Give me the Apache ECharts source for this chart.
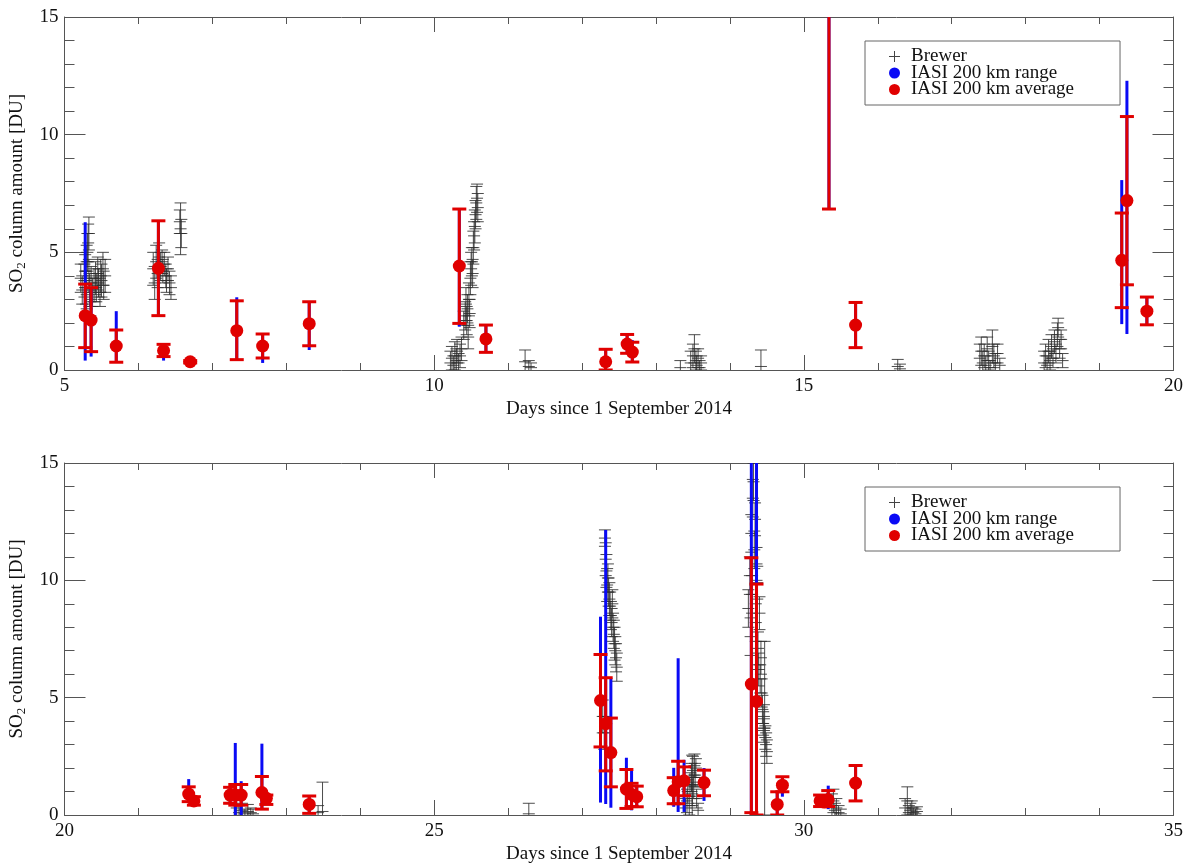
<!DOCTYPE html>
<html>
<head>
<meta charset="utf-8">
<script src="https://cdn.jsdelivr.net/npm/echarts@6/dist/echarts.min.js"></script>
<style>
  html, body { margin: 0; padding: 0; background: #fff; }
  #chart { width: 1186px; height: 865px; }
</style>
</head>
<body>
<div id="chart"></div>
<script>
// Brewer: [day, SO2 (DU), error]
const brewerTop = [
  [5.22, 3.9, 0.6], [5.24, 3.4, 0.6], [5.27, 3.8, 0.7], [5.28, 4.2, 0.7], [5.29, 3.5, 0.7],
  [5.30, 3.2, 0.6], [5.30, 4.6, 0.7], [5.31, 5.0, 0.8], [5.32, 5.4, 0.8], [5.33, 5.8, 0.7],
  [5.33, 4.0, 0.7], [5.34, 3.4, 0.7], [5.35, 2.9, 0.6], [5.36, 3.7, 0.7], [5.38, 3.3, 0.6],
  [5.40, 3.6, 0.7], [5.42, 3.9, 0.7], [5.43, 3.5, 0.6], [5.45, 4.1, 0.7], [5.46, 3.7, 0.6],
  [5.48, 3.3, 0.6], [5.49, 4.0, 0.7], [5.50, 3.8, 0.7], [5.52, 4.3, 0.7], [5.53, 3.6, 0.6],
  [5.55, 4.0, 0.7],
  [6.20, 4.3, 0.7], [6.22, 3.7, 0.7], [6.24, 4.6, 0.7], [6.26, 4.1, 0.6], [6.28, 4.8, 0.6],
  [6.30, 4.4, 0.6], [6.32, 4.6, 0.5], [6.33, 4.2, 0.5], [6.35, 4.5, 0.5], [6.37, 4.0, 0.5],
  [6.38, 3.8, 0.5], [6.40, 4.3, 0.5], [6.42, 3.7, 0.5], [6.44, 3.5, 0.5],
  [6.56, 6.3, 0.5], [6.57, 6.0, 1.1], [6.58, 5.8, 0.6],
  [10.22, 0.3, 0.5], [10.24, 0.5, 0.5], [10.26, 0.2, 0.4], [10.28, 0.6, 0.6], [10.30, 0.4, 0.5],
  [10.31, 0.8, 0.5], [10.33, 0.3, 0.4], [10.35, 0.6, 0.5], [10.37, 0.9, 0.5],
  [10.40, 1.9, 0.6], [10.42, 2.3, 0.6], [10.43, 2.8, 0.7], [10.44, 2.1, 0.6], [10.45, 2.6, 0.6],
  [10.46, 1.4, 0.5], [10.47, 3.0, 0.7], [10.48, 2.4, 0.6], [10.49, 3.9, 0.7], [10.50, 4.3, 0.7],
  [10.51, 4.6, 0.6], [10.52, 4.1, 0.6], [10.53, 5.2, 0.7], [10.54, 5.7, 0.6], [10.55, 6.1, 0.7],
  [10.56, 6.6, 0.6], [10.57, 7.1, 0.7], [10.58, 7.3, 0.6], [10.59, 6.9, 0.6],
  [11.23, 0.35, 0.5], [11.28, 0.15, 0.25], [11.31, 0.1, 0.2],
  [13.33, 0.1, 0.3],
  [13.47, 0.3, 0.5], [13.50, 0.6, 0.5], [13.52, 0.9, 0.6], [13.54, 0.4, 0.4], [13.55, 0.2, 0.4],
  [13.57, 0.5, 0.4], [13.59, 0.1, 0.3], [13.61, 0.3, 0.3],
  [14.42, 0.15, 0.7],
  [16.27, 0.15, 0.3], [16.30, 0.05, 0.2],
  [17.38, 0.5, 0.6], [17.40, 0.8, 0.6], [17.42, 0.3, 0.5], [17.44, 0.6, 0.5], [17.46, 0.2, 0.4],
  [17.48, 0.9, 0.5], [17.50, 0.4, 0.4], [17.52, 0.1, 0.3], [17.55, 1.0, 0.7], [17.57, 0.6, 0.5],
  [17.59, 0.3, 0.4], [17.62, 0.7, 0.4], [17.65, 0.2, 0.3],
  [18.25, 0.3, 0.5], [18.27, 0.6, 0.5], [18.29, 0.2, 0.4], [18.31, 0.8, 0.5], [18.33, 0.4, 0.4],
  [18.35, 1.0, 0.5], [18.37, 0.5, 0.4], [18.39, 1.2, 0.5], [18.41, 0.7, 0.4], [18.43, 1.5, 0.5],
  [18.44, 1.8, 0.4], [18.46, 0.9, 0.4], [18.48, 1.3, 0.4], [18.50, 0.4, 0.3]
];
const brewerBottom = [
  [22.33, 0.3, 0.4], [22.36, 0.1, 0.3], [22.40, 0.2, 0.3], [22.44, 0.05, 0.2], [22.48, 0.15, 0.3],
  [22.52, 0.1, 0.2], [22.55, 0.05, 0.2],
  [23.43, 0.1, 0.3], [23.49, 0.15, 1.25],
  [26.28, 0.05, 0.45],
  [27.28, 4.2, 0.7], [27.30, 3.5, 0.7], [27.31, 11.8, 0.35], [27.32, 10.9, 0.7], [27.33, 10.4, 0.7],
  [27.34, 9.8, 0.7], [27.35, 10.1, 0.6], [27.36, 9.5, 0.6], [27.37, 9.2, 0.7], [27.38, 8.9, 0.6],
  [27.39, 8.5, 0.6], [27.40, 8.2, 0.6], [27.41, 9.0, 0.6], [27.42, 8.0, 0.6], [27.43, 7.7, 0.6],
  [27.44, 7.3, 0.7], [27.45, 7.0, 0.6], [27.46, 6.7, 0.6], [27.47, 6.3, 0.6],
  [28.40, 0.3, 0.4], [28.42, 0.6, 0.5], [28.43, 1.0, 0.5], [28.45, 0.4, 0.4], [28.46, 1.3, 0.5],
  [28.48, 1.6, 0.6], [28.49, 0.9, 0.5], [28.49, 1.25, 1.3], [28.50, 1.9, 0.6], [28.51, 1.2, 0.5],
  [28.52, 2.1, 0.5], [28.53, 1.7, 0.5], [28.54, 2.0, 0.4], [28.55, 0.7, 0.4], [28.57, 0.2, 0.3],
  [29.25, 8.8, 0.8], [29.27, 10.2, 0.8], [29.28, 7.6, 0.8], [29.29, 12.0, 0.8], [29.30, 9.4, 0.8],
  [29.31, 13.5, 0.8], [29.32, 14.2, 0.8], [29.33, 11.3, 0.8], [29.34, 12.6, 0.7], [29.35, 8.2, 0.8],
  [29.36, 10.7, 0.7], [29.37, 9.9, 0.7], [29.38, 7.1, 0.7], [29.39, 6.2, 0.7], [29.40, 8.6, 0.7],
  [29.41, 5.8, 0.6], [29.42, 6.7, 0.7], [29.43, 5.2, 0.6], [29.44, 4.5, 0.6], [29.45, 3.9, 0.5],
  [29.46, 3.6, 0.5], [29.46, 4.2, 0.5], [29.47, 3.7, 3.7], [29.48, 3.3, 0.5], [29.49, 3.0, 0.5],
  [29.50, 2.7, 0.5],
  [30.38, 0.4, 0.5], [30.40, 0.6, 0.5], [30.42, 0.2, 0.3], [30.44, 0.3, 0.4], [30.47, 0.1, 0.3],
  [30.50, 0.05, 0.2],
  [31.37, 0.3, 0.4], [31.40, 0.6, 0.6], [31.42, 0.1, 0.3], [31.44, 0.2, 0.3], [31.46, 0.3, 0.3],
  [31.48, 0.1, 0.2], [31.51, 0.05, 0.2], [31.53, 0.15, 0.2]
];

// IASI: [day, average, avg low, avg high, range low, range high]
const iasiTop = [
  [5.28, 2.31, 0.95, 3.65, 0.40, 6.28],
  [5.36, 2.12, 0.78, 3.50, 0.57, 3.50],
  [5.70, 1.02, 0.33, 1.70, 0.33, 2.50],
  [6.27, 4.32, 2.31, 6.34, 2.31, 6.34],
  [6.34, 0.82, 0.57, 1.09, 0.40, 1.09],
  [6.70, 0.35, 0.30, 0.40, 0.30, 0.40],
  [7.33, 1.67, 0.44, 2.94, 0.44, 3.09],
  [7.68, 1.02, 0.51, 1.53, 0.30, 1.53],
  [8.31, 1.97, 1.03, 2.90, 0.85, 2.90],
  [10.34, 4.42, 1.98, 6.84, 1.84, 6.84],
  [10.70, 1.32, 0.75, 1.91, 0.75, 1.93],
  [12.32, 0.35, 0.00, 0.88, 0.00, 0.88],
  [12.61, 1.10, 0.71, 1.51, 0.71, 1.51],
  [12.68, 0.76, 0.34, 1.18, 0.34, 1.27],
  [15.34, 25.0, 6.84, 40.0, 6.84, 40.0],
  [15.70, 1.91, 0.95, 2.87, 0.95, 2.87],
  [19.30, 4.66, 2.65, 6.67, 1.95, 8.07],
  [19.37, 7.20, 3.62, 10.77, 1.53, 12.29],
  [19.64, 2.50, 1.92, 3.10, 1.92, 3.10]
];
const iasiBottom = [
  [21.68, 0.89, 0.57, 1.20, 0.57, 1.53],
  [21.75, 0.60, 0.42, 0.78, 0.42, 0.78],
  [22.24, 0.85, 0.50, 1.18, 0.50, 1.18],
  [22.31, 0.85, 0.42, 1.30, 0.00, 3.07],
  [22.39, 0.85, 0.42, 1.30, 0.00, 1.44],
  [22.67, 0.96, 0.25, 1.64, 0.25, 3.04],
  [22.73, 0.71, 0.45, 0.85, 0.45, 0.85],
  [23.31, 0.45, 0.07, 0.81, 0.07, 0.81],
  [27.25, 4.88, 2.90, 6.84, 0.53, 8.45],
  [27.32, 3.89, 1.88, 5.85, 0.47, 12.14],
  [27.39, 2.66, 1.20, 4.13, 0.31, 5.83],
  [27.60, 1.10, 0.28, 1.94, 0.28, 2.44],
  [27.67, 0.88, 0.36, 1.35, 0.20, 1.91],
  [27.74, 0.78, 0.35, 1.23, 0.35, 1.23],
  [28.24, 1.04, 0.48, 1.59, 0.35, 2.01],
  [28.30, 1.42, 0.48, 2.29, 0.13, 6.68],
  [28.38, 1.46, 0.82, 2.05, 0.13, 2.35],
  [28.65, 1.38, 0.82, 1.91, 0.60, 2.00],
  [29.29, 5.58, 0.10, 10.96, 0.00, 18.0],
  [29.36, 4.84, 0.00, 9.84, 0.00, 18.0],
  [29.64, 0.45, 0.00, 0.99, 0.00, 0.99],
  [29.71, 1.27, 0.99, 1.63, 0.78, 1.63],
  [30.22, 0.60, 0.36, 0.85, 0.36, 0.85],
  [30.28, 0.55, 0.40, 0.80, 0.40, 0.80],
  [30.33, 0.65, 0.36, 1.04, 0.25, 1.25],
  [30.70, 1.36, 0.60, 2.11, 0.60, 2.11]
];

const FONT = 'Liberation Serif';
const AXIS_COLOR = '#555';
const BLUE = '#0a0af5';
const RED = '#e00000';
const BREWER = '#2e2e2e';
const names = ['Brewer', 'IASI 200 km range', 'IASI 200 km average'];

function line(x1, y1, x2, y2, style) {
  return { type: 'line', shape: { x1, y1, x2, y2 }, style };
}

function brewerItem(params, api) {
  const d = api.value(0), v = api.value(1), e = api.value(2);
  const c = api.coord([d, v]);
  const lo = api.coord([d, v - e])[1];
  const hi = api.coord([d, v + e])[1];
  const w = 6;
  const st = { stroke: BREWER, lineWidth: 1, opacity: 0.85 };
  return {
    type: 'group',
    children: [
      line(c[0], lo, c[0], hi, st),
      line(c[0] - w, lo, c[0] + w, lo, st),
      line(c[0] - w, hi, c[0] + w, hi, st),
      line(c[0] - w, c[1], c[0] + w, c[1], st)
    ]
  };
}

function rangeItem(params, api) {
  const d = api.value(0);
  const lo = api.coord([d, api.value(4)]);
  const hi = api.coord([d, api.value(5)]);
  return line(lo[0], lo[1], hi[0], hi[1], { stroke: BLUE, lineWidth: 3 });
}

function avgErrItem(params, api) {
  const d = api.value(0);
  const lo = api.coord([d, api.value(2)]);
  const hi = api.coord([d, api.value(3)]);
  const w = 7;
  const st = { stroke: RED, lineWidth: 3 };
  return {
    type: 'group',
    children: [
      line(lo[0], lo[1], hi[0], hi[1], st),
      line(lo[0] - w, lo[1], lo[0] + w, lo[1], st),
      line(hi[0] - w, hi[1], hi[0] + w, hi[1], st)
    ]
  };
}

const tickBase = {
  type: 'value',
  splitLine: { show: false },
  axisLine: { onZero: false, lineStyle: { color: AXIS_COLOR, width: 1 } },
  axisTick: { inside: true, lineStyle: { color: AXIS_COLOR } },
  minorTick: { show: true, splitNumber: 5, lineStyle: { color: AXIS_COLOR } }
};

function xAxes(gi, min, max) {
  return [
    Object.assign({}, tickBase, {
      gridIndex: gi, position: 'bottom', min, max, interval: 5,
      axisTick: Object.assign({}, tickBase.axisTick, { length: 15 }),
      minorTick: Object.assign({}, tickBase.minorTick, { length: 7 }),
      axisLabel: { margin: 7, fontSize: 19, fontFamily: FONT, color: '#111' },
      name: 'Days since 1 September 2014', nameLocation: 'middle', nameGap: 30,
      nameTextStyle: { fontSize: 19, fontFamily: FONT, color: '#111' }
    }),
    Object.assign({}, tickBase, {
      gridIndex: gi, position: 'top', min, max, interval: 5,
      axisTick: Object.assign({}, tickBase.axisTick, { length: 15 }),
      minorTick: Object.assign({}, tickBase.minorTick, { length: 7 }),
      axisLabel: { show: false }
    })
  ];
}

function yAxes(gi) {
  return [
    Object.assign({}, tickBase, {
      gridIndex: gi, position: 'left', min: 0, max: 15, interval: 5,
      axisTick: Object.assign({}, tickBase.axisTick, { length: 21 }),
      minorTick: Object.assign({}, tickBase.minorTick, { length: 10 }),
      axisLabel: { margin: 6, fontSize: 19, fontFamily: FONT, color: '#111' },
      name: '{a|SO}{b|2}{a| column amount [DU]}', nameLocation: 'middle', nameGap: 36,
      nameTextStyle: {
        color: '#111',
        rich: {
          a: { fontSize: 19, fontFamily: FONT, color: '#111' },
          b: { fontSize: 13, fontFamily: FONT, color: '#111', verticalAlign: 'bottom', padding: [9, 0, 0, 0] }
        }
      }
    }),
    Object.assign({}, tickBase, {
      gridIndex: gi, position: 'right', min: 0, max: 15, interval: 5,
      axisTick: Object.assign({}, tickBase.axisTick, { length: 21 }),
      minorTick: Object.assign({}, tickBase.minorTick, { length: 10 }),
      axisLabel: { show: false }
    })
  ];
}

function legend(top) {
  return {
    orient: 'vertical', left: 865, top,
    padding: [6, 46, 6, 24],
    borderColor: '#666', borderWidth: 1,
    itemWidth: 11, itemHeight: 11, itemGap: -2.5,
    selectedMode: false,
    textStyle: { fontSize: 19, fontFamily: FONT, color: '#111', lineHeight: 17, padding: [0, 0, 0, 6] },
    data: [
      { name: names[0], icon: 'path://M5,0h1v5h5v1h-5v5h-1v-5h-5v-1h5z', itemStyle: { color: '#444' } },
      { name: names[1], icon: 'circle', itemStyle: { color: BLUE } },
      { name: names[2], icon: 'circle', itemStyle: { color: RED } }
    ]
  };
}

function panelSeries(brewer, iasi, xi, yi) {
  const ax = { xAxisIndex: xi, yAxisIndex: yi };
  return [
    Object.assign({ name: names[0], type: 'custom', renderItem: brewerItem, data: brewer,
      encode: { x: 0, y: 1 }, clip: true, itemStyle: { color: '#444' }, z: 2 }, ax),
    Object.assign({ name: names[1], type: 'custom', renderItem: rangeItem, data: iasi,
      encode: { x: 0, y: 1 }, clip: true, itemStyle: { color: BLUE }, z: 3 }, ax),
    Object.assign({ name: names[2], type: 'custom', renderItem: avgErrItem, data: iasi,
      encode: { x: 0, y: 1 }, clip: true, itemStyle: { color: RED }, z: 4 }, ax),
    Object.assign({ name: names[2], type: 'scatter', data: iasi.map(r => [r[0], r[1]]),
      symbol: 'circle', symbolSize: 13, itemStyle: { color: RED, opacity: 1 }, clip: true, z: 5 }, ax)
  ];
}

const chart = echarts.init(document.getElementById('chart'), null, { renderer: 'canvas' });
chart.setOption({
  backgroundColor: '#fff',
  animation: false,
  grid: [
    { left: 62, right: 11, top: 17, height: 353 },
    { left: 62, right: 11, top: 463, height: 354 }
  ],
  xAxis: [].concat(xAxes(0, 5, 20), xAxes(1, 20, 35)),
  yAxis: [].concat(yAxes(0), yAxes(1)),
  legend: [legend(41), legend(487)],
  series: [].concat(
    panelSeries(brewerTop, iasiTop, 0, 0),
    panelSeries(brewerBottom, iasiBottom, 2, 2)
  )
});
</script>
</body>
</html>
